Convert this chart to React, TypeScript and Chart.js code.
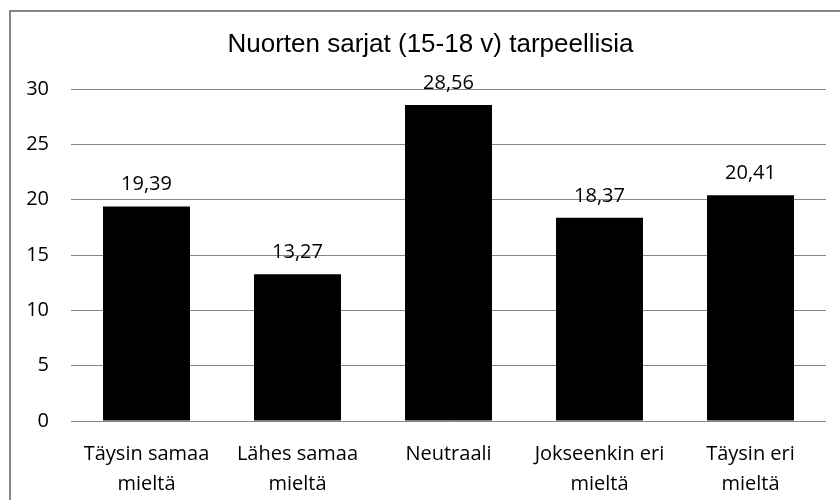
import React, { useEffect, useRef } from "react";
import { Chart, registerables } from "chart.js";

Chart.register(...registerables);

const categories: (string | string[])[] = [
  ["Täysin samaa", "mieltä"],
  ["Lähes samaa", "mieltä"],
  "Neutraali",
  ["Jokseenkin eri", "mieltä"],
  ["Täysin eri", "mieltä"],
];
const values: number[] = [19.39, 13.27, 28.56, 18.37, 20.41];
const titleText = "Nuorten sarjat (15-18 v) tarpeellisia";
const yMin = 0;
const yMax = 30;
const yStep = 5;

const GRAY = "#878787";
const TICK_FONT = { family: "'Open Sans', sans-serif", size: 20, lineHeight: 1.5 };

const framePlugin = {
  id: "frame",
  beforeDraw(chart: any) {
    const ctx = chart.ctx;
    ctx.save();
    ctx.fillStyle = "#ffffff";
    ctx.fillRect(0, 0, chart.width, chart.height);
    ctx.strokeStyle = GRAY;
    ctx.lineWidth = 2;
    ctx.beginPath();
    ctx.moveTo(10, chart.height + 5);
    ctx.lineTo(10, 11);
    ctx.lineTo(chart.width + 5, 11);
    ctx.stroke();
    ctx.restore();
  },
};

const titlePlugin = {
  id: "centeredTitle",
  afterDraw(chart: any) {
    const ctx = chart.ctx;
    ctx.save();
    ctx.font = "26px 'Liberation Sans', Arial, sans-serif";
    ctx.fillStyle = "#000000";
    ctx.textAlign = "center";
    ctx.textBaseline = "middle";
    ctx.fillText(titleText, 430.5, 45);
    ctx.restore();
  },
};

const valueLabelPlugin = {
  id: "valueLabels",
  afterDatasetsDraw(chart: any) {
    const ctx = chart.ctx;
    const meta = chart.getDatasetMeta(0);
    const data = chart.data.datasets[0].data as number[];
    ctx.save();
    ctx.font = "20px 'Open Sans', sans-serif";
    ctx.fillStyle = "#000000";
    ctx.textAlign = "center";
    ctx.textBaseline = "alphabetic";
    meta.data.forEach((bar: any, i: number) => {
      const label = data[i].toFixed(2).replace(".", ",");
      ctx.fillText(label, bar.x, bar.y - 16);
    });
    ctx.restore();
  },
};

export default function App() {
  const canvasRef = useRef<HTMLCanvasElement | null>(null);

  useEffect(() => {
    if (!canvasRef.current) return;
    const chart = new Chart(canvasRef.current, {
      type: "bar",
      data: {
        labels: categories,
        datasets: [
          {
            data: values,
            backgroundColor: "#000000",
            borderWidth: 0,
            barPercentage: 0.576,
            categoryPercentage: 1,
          },
        ],
      },
      options: {
        animation: false,
        responsive: false,
        devicePixelRatio: 1,
        layout: { padding: { left: 0, right: 14, top: 89, bottom: 0 } },
        plugins: {
          legend: { display: false },
          tooltip: { enabled: false },
          title: { display: false },
        },
        scales: {
          x: {
            grid: { display: false },
            border: { display: false },
            ticks: {
              color: "#000000",
              font: TICK_FONT,
              padding: 10,
              maxRotation: 0,
              autoSkip: false,
            },
            afterFit(scale: any) {
              scale.height = 79;
            },
          },
          y: {
            min: yMin,
            max: yMax,
            grid: { color: GRAY, lineWidth: 1, drawTicks: false },
            border: { display: false },
            ticks: {
              stepSize: yStep,
              color: "#000000",
              font: { family: "'Open Sans', sans-serif", size: 20 },
              padding: 22,
            },
            afterFit(scale: any) {
              scale.width = 71;
            },
          },
        },
      },
      plugins: [framePlugin, valueLabelPlugin, titlePlugin],
    });
    return () => chart.destroy();
  }, []);

  return (
    <div style={{ position: "fixed", left: 0, top: 0, width: 840, height: 500, background: "#fff" }}>
      <canvas ref={canvasRef} width={840} height={500} style={{ width: 840, height: 500, display: "block" }} />
    </div>
  );
}
